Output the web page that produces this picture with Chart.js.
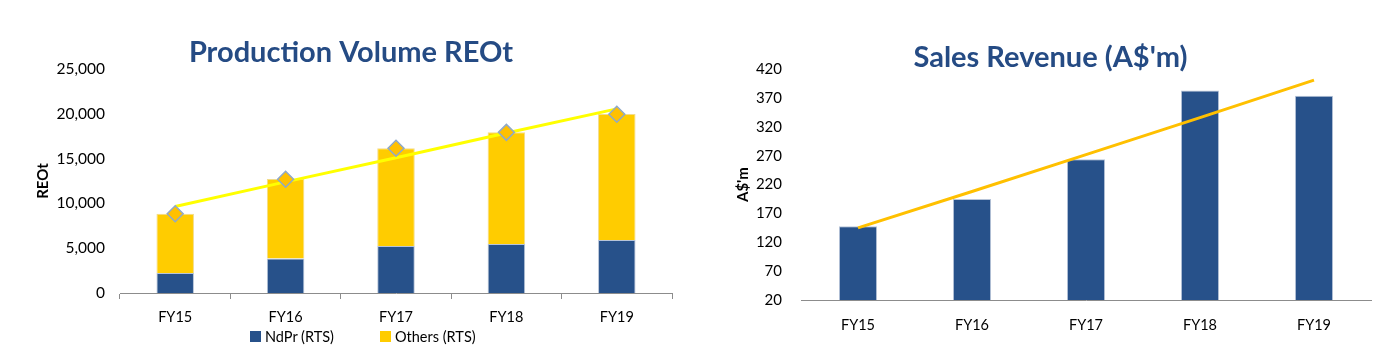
<!DOCTYPE html>
<html>
<head>
<meta charset="utf-8">
<script src="https://cdn.jsdelivr.net/npm/chart.js@4.4.1/dist/chart.umd.min.js"></script>
<style>
  html, body { margin: 0; padding: 0; background: #ffffff; }
  #wrap { position: relative; width: 1388px; height: 355px; overflow: hidden; }
  .pane { position: absolute; top: 0; width: 694px; height: 355px; }
  .lg { position: absolute; top: 328px; height: 16px; display: flex; align-items: center;
        font-family: Lato, "Open Sans", sans-serif; font-size: 14.5px; color: #000; white-space: nowrap; }
  .lg i { display: inline-block; width: 11px; height: 11px; margin-right: 4px; }
</style>
</head>
<body>
<div id="wrap">
  <div class="pane" style="left:0px"><canvas id="prod" width="694" height="355"></canvas></div>
  <div class="pane" style="left:694px"><canvas id="rev" width="694" height="355"></canvas></div>
  <div id="prodLegend"></div>
</div>
<script>
// ---- data ----
const categories = ['FY15', 'FY16', 'FY17', 'FY18', 'FY19'];

// Production volume (REOt)
const ndprRTS   = [2230, 3860, 5250, 5470, 5920];
const othersRTS = [6620, 8860, 10900, 12460, 14060];
const prodTotal = [8850, 12700, 16150, 17930, 19950];
const prodTrend = [9650, 12400, 15100, 17850, 20550];
const prodTicks = [0, 5000, 10000, 15000, 20000, 25000];

// Sales revenue (A$'m)
const revenue   = [148, 195, 264, 383, 374];
const revTrend  = [145, 208, 272, 336, 401];
const revTicks  = [20, 70, 120, 170, 220, 270, 320, 370, 420];

// ---- styling ----
const FONT = 'Lato, "Open Sans", "DejaVu Sans", sans-serif';
const BLUE = '#27518a';
const GOLD = '#ffcc00';
const TITLE_COLOR = '#254b84';

Chart.defaults.font.family = FONT;
Chart.defaults.color = '#000000';

const prodChart = new Chart(document.getElementById('prod'), {
  data: {
    labels: categories,
    datasets: [
      { type: 'line', label: 'Total', data: prodTotal, stack: 'pts', showLine: false,
        pointStyle: 'rectRot', pointRadius: 8, pointHoverRadius: 8,
        pointBackgroundColor: '#ffc000', pointBorderColor: '#8fa9c9', pointBorderWidth: 1.5, order: 0 },
      { type: 'line', label: 'Trend', data: prodTrend, stack: 'trend',
        borderColor: '#ffff00', borderWidth: 3, pointRadius: 0, fill: false, order: 1 },
      { type: 'bar', label: 'NdPr (RTS)', data: ndprRTS, stack: 'vol',
        backgroundColor: BLUE, borderColor: '#b7c4d8', borderWidth: 1, order: 2,
        categoryPercentage: 1, barPercentage: 0.34 },
      { type: 'bar', label: 'Others (RTS)', data: othersRTS, stack: 'vol',
        backgroundColor: GOLD, borderColor: '#f2dc8a', borderWidth: 1, order: 2,
        categoryPercentage: 1, barPercentage: 0.34 }
    ]
  },
  options: {
    responsive: false,
    animation: false,
    layout: { padding: { left: 30, right: 22, top: 0, bottom: 0 } },
    plugins: {
      title: { display: true, text: 'Production Volume REOt', color: TITLE_COLOR,
        font: { size: 29, weight: 'bold', lineHeight: 1 }, padding: { top: 38, bottom: 2 } },
      legend: { display: false },
      tooltip: { enabled: false }
    },
    scales: {
      x: { stacked: true,
        grid: { display: true, drawOnChartArea: false, drawTicks: true, tickLength: 6, offset: true, color: '#8c8c8c' },
        border: { display: true, color: '#8c8c8c', width: 1 },
        ticks: { font: { size: 14.5 }, color: '#000', padding: 10 },
        afterFit: (s) => { s.height = 62; } },
      y: { stacked: true, min: 0, max: 25000,
        afterBuildTicks: (s) => { s.ticks = prodTicks.map(v => ({ value: v })); },
        grid: { display: false }, border: { display: false },
        ticks: { font: { size: 15.5 }, color: '#000', padding: 7,
          callback: (v) => v.toLocaleString('en-US') },
        title: { display: true, text: 'REOt', color: '#000', font: { size: 15, weight: 'bold' }, padding: { top: 4, bottom: 0 } },
        afterFit: (s) => { s.width = 90; } }
    }
  }
});

// HTML legend built from the chart's own legend items (bar series only)
(function buildLegend() {
  const items = Chart.defaults.plugins.legend.labels.generateLabels(prodChart)
    .filter(it => it.text.indexOf('RTS') >= 0);
  const lefts = [250, 380];
  const host = document.getElementById('prodLegend');
  items.forEach((it, i) => {
    const d = document.createElement('div');
    d.className = 'lg';
    d.style.left = lefts[i] + 'px';
    const sw = document.createElement('i');
    sw.style.background = it.fillStyle;
    d.appendChild(sw);
    d.appendChild(document.createTextNode(it.text));
    host.appendChild(d);
  });
})();

new Chart(document.getElementById('rev'), {
  data: {
    labels: categories,
    datasets: [
      { type: 'line', label: 'Trend', data: revTrend,
        borderColor: '#ffc000', borderWidth: 3, pointRadius: 0, fill: false, order: 0 },
      { type: 'bar', label: "Sales Revenue (A$'m)", data: revenue,
        backgroundColor: BLUE, borderColor: '#b7c4d8', borderWidth: 1, order: 1,
        categoryPercentage: 1, barPercentage: 0.335 }
    ]
  },
  options: {
    responsive: false,
    animation: false,
    layout: { padding: { left: 36, right: 17, top: 0, bottom: 0 } },
    plugins: {
      title: { display: true, text: "Sales Revenue (A$'m)", color: TITLE_COLOR,
        font: { size: 29, weight: 'bold', lineHeight: 0.8 }, padding: { top: 46, bottom: 0 } },
      legend: { display: false },
      tooltip: { enabled: false }
    },
    scales: {
      x: {
        grid: { display: false },
        border: { display: true, color: '#8c8c8c', width: 1 },
        ticks: { font: { size: 14.5 }, color: '#000', padding: 9 },
        afterFit: (s) => { s.height = 55; } },
      y: { min: 20, max: 420,
        afterBuildTicks: (s) => { s.ticks = revTicks.map(v => ({ value: v })); },
        grid: { display: false }, border: { display: false },
        ticks: { font: { size: 15 }, color: '#000', padding: 11 },
        title: { display: true, text: "A$'m", color: '#000', font: { size: 15, weight: 'bold' }, padding: { top: 4, bottom: 0 } },
        afterFit: (s) => { s.width = 71; } }
    }
  }
});
</script>
</body>
</html>
